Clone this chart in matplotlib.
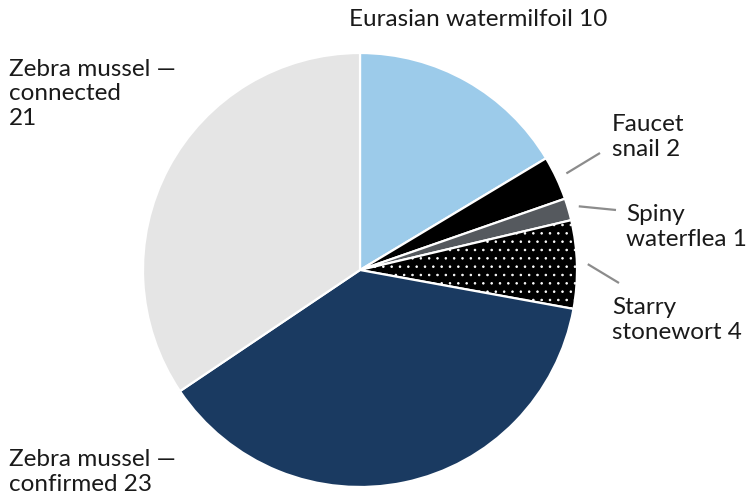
import numpy as np
import matplotlib.pyplot as plt

plt.rcParams['font.family'] = ['Lato', 'DejaVu Sans']
plt.rcParams['hatch.linewidth'] = 0.6

species = ["Eurasian watermilfoil", "Faucet snail", "Spiny waterflea",
           "Starry stonewort", "Zebra mussel — confirmed", "Zebra mussel — connected"]
counts = [10, 2, 1, 4, 23, 21]
colors = ["#9ccbea", "#000000", "#55595e", "#000000", "#1a3a61", "#e5e5e5"]
hatches = [None, None, None, "..", None, None]

W, H = 754, 500
fig = plt.figure(figsize=(W / 100, H / 100), dpi=100)
ax = fig.add_axes([0, 0, 1, 1])

cx, cy, r = 360, H - 270, 217
wedges, _ = ax.pie(counts, colors=colors, startangle=90, counterclock=False,
                   center=(cx, cy), radius=r,
                   wedgeprops=dict(edgecolor="white", linewidth=1.6))
for w, h in zip(wedges, hatches):
    if h:
        w.set_hatch(h)

ax.set_xlim(0, W)
ax.set_ylim(0, H)
ax.set_aspect("equal")
ax.axis("off")

fs = 17.5
txt = dict(fontsize=fs, color="#1a1a1a", linespacing=1.2)

# (label, x, y in pixels from top)
labels = [
    ("Eurasian watermilfoil 10", 349, 20),
    ("Faucet\nsnail 2", 612, 137),
    ("Spiny\nwaterflea 1", 626, 227),
    ("Starry\nstonewort 4", 612, 320),
    ("Zebra mussel —\nconnected\n21", 9, 94),
    ("Zebra mussel —\nconfirmed 23", 9, 472),
]
for s, x, y in labels:
    ax.text(x, H - y, s, ha="left", va="center", **txt)

# leader lines for the small slices
ends = {1: (600, 153), 2: (616, 210), 3: (619, 283)}
for i, (ex, ey) in ends.items():
    w = wedges[i]
    ang = np.deg2rad((w.theta1 + w.theta2) / 2)
    sx, sy = cx + 1.05 * r * np.cos(ang), cy + 1.05 * r * np.sin(ang)
    ax.plot([sx, ex], [sy, H - ey], color="#8c8c8c", lw=1.6,
            solid_capstyle="butt")

fig.savefig("out.png", dpi=100)
